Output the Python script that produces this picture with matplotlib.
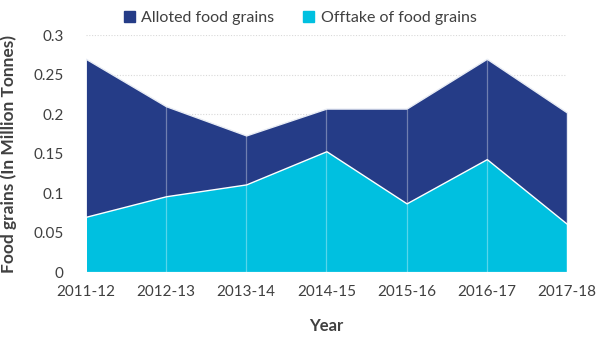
import matplotlib.pyplot as plt
import numpy as np

years = ["2011-12", "2012-13", "2013-14", "2014-15", "2015-16", "2016-17", "2017-18"]
alloted = [0.270, 0.210, 0.173, 0.207, 0.207, 0.270, 0.202]
offtake = [0.070, 0.096, 0.111, 0.153, 0.087, 0.143, 0.061]

plt.rcParams['font.family'] = ['Lato', 'DejaVu Sans']
dark = "#253c87"
cyan = "#00c0e0"
txt = "#404040"

fig = plt.figure(figsize=(6, 3.44), dpi=100)
ax = fig.add_axes([0.143, 0.209, 0.802, 0.689])
x = np.arange(len(years))

# overlapping areas, offtake in front
ax.fill_between(x, 0, alloted, color=dark, edgecolor="#e8ecf4", linewidth=1.0, zorder=2)
ax.fill_between(x, 0, offtake, color=cyan, edgecolor="white", linewidth=1.0, zorder=3)
# drop lines
ax.vlines(x[1:-1], 0, np.array(alloted)[1:-1], color="white", alpha=0.35, linewidth=0.9, zorder=4)

ax.set_xlim(0, len(years) - 1)
ax.set_ylim(0, 0.3)
ax.set_yticks([0, 0.05, 0.1, 0.15, 0.2, 0.25, 0.3])
ax.set_yticklabels(["0", "0.05", "0.1", "0.15", "0.2", "0.25", "0.3"])
ax.set_xticks(x)
ax.set_xticklabels(years)
ax.tick_params(length=0, labelsize=11, colors=txt)
ax.tick_params(axis="x", pad=9)
ax.tick_params(axis="y", pad=16)
ax.yaxis.grid(True, linestyle=(0, (1, 1.5)), color="#d9d9d9", linewidth=0.8, zorder=0)
ax.set_axisbelow(True)
for s in ax.spines.values():
    s.set_visible(False)

ax.set_xlabel("Year", fontsize=12, fontweight="bold", color=txt, labelpad=14)
ax.set_ylabel("Food grains (In Million Tonnes)", fontsize=12.5, fontweight="bold", color=txt, labelpad=12)

h1 = plt.Rectangle((0, 0), 1, 1, color=dark)
h2 = plt.Rectangle((0, 0), 1, 1, color=cyan)
fig.legend([h1, h2], ["Alloted food grains", "Offtake of food grains"], loc="center",
           bbox_to_anchor=(0.5, 0.948), ncol=2, frameon=False, fontsize=11.5,
           handlelength=0.7, handleheight=0.7, handletextpad=0.4, columnspacing=1.8,
           labelcolor=txt)

fig.savefig("out.png", dpi=100)
